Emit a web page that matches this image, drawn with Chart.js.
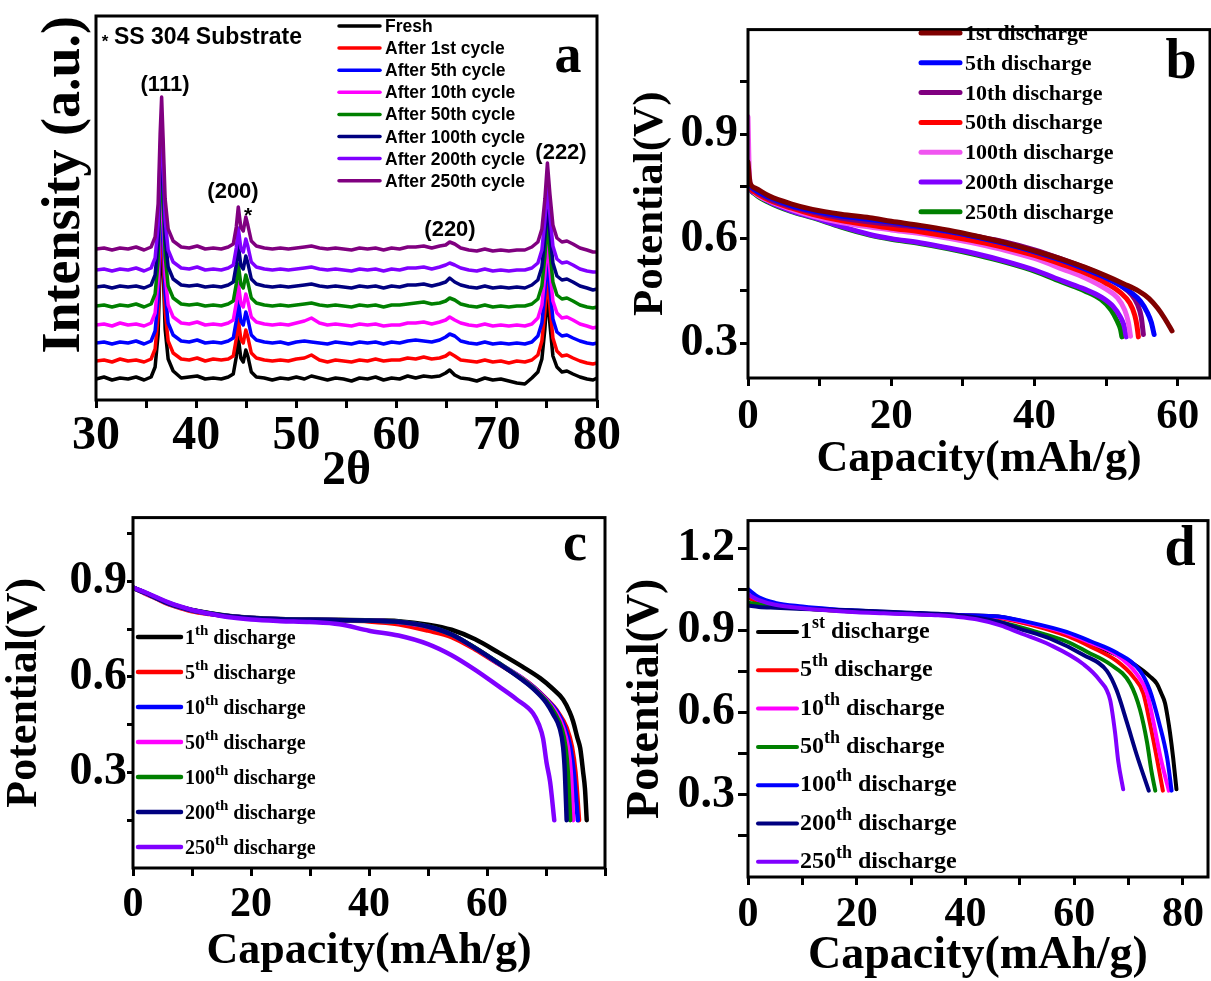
<!DOCTYPE html>
<html>
<head>
<meta charset="utf-8">
<script src="https://cdn.jsdelivr.net/npm/chart.js@4.4.0/dist/chart.umd.min.js"></script>
<style>
  body { margin: 0; background: #fff; width: 1211px; height: 981px; overflow: hidden; position: relative; }
  .panel { position: absolute; }
</style>
</head>
<body>
<div class="panel" style="left:0;top:0;width:625px;height:500px"><canvas id="chartA"></canvas></div>
<div class="panel" style="left:610px;top:0;width:601px;height:490px"><canvas id="chartB"></canvas></div>
<div class="panel" style="left:0;top:490px;width:610px;height:491px"><canvas id="chartC"></canvas></div>
<div class="panel" style="left:610px;top:490px;width:601px;height:491px"><canvas id="chartD"></canvas></div>
<script>
// ---------- (a) XRD patterns, stacked ----------
const twoTheta = [30, 30.8, 31.6, 32.4, 33.2, 34, 34.8, 35.5, 35.9, 36.2,
  36.4, 36.55, 36.7, 36.9, 37.2, 37.7, 38.5, 39.3, 40.1, 40.9,
  41.7, 42.5, 43.2, 43.7, 44.0, 44.2, 44.45, 44.7, 44.95, 45.15,
  45.5, 46.0, 46.8, 47.6, 48.4, 49.2, 50.0, 50.8, 51.5, 52.3,
  53.1, 53.9, 54.7, 55.5, 56.3, 57.1, 57.9, 58.7, 59.5, 60.3,
  61.1, 61.9, 62.7, 63.5, 64.3, 64.9, 65.3, 65.8, 66.4, 67.2,
  68.0, 68.8, 69.6, 70.4, 71.2, 72.0, 72.8, 73.5, 74.1, 74.5,
  74.8, 75.05, 75.3, 75.6, 76.0, 76.5, 77.0, 77.6, 78.3, 79.0,
  79.6, 80];

const xrdFresh = [21, 23, 20, 22, 21, 23, 20, 23, 33, 66, 136, 172, 131, 71, 41, 29, 22, 23, 24, 21,
  22, 21, 23, 26, 43, 63, 42, 38, 50, 44, 28, 23, 22, 20, 22, 21, 23, 21, 24, 22,
  20, 22, 21, 19, 22, 21, 23, 20, 22, 21, 24, 22, 24, 23, 24, 27, 30, 25, 22, 21,
  19, 22, 20, 21, 19, 17, 16, 22, 28, 41, 71, 108, 76, 44, 33, 28, 29, 26, 23, 21, 20, 22];
const xrd1st = [39, 40, 38, 41, 39, 40, 38, 41, 51, 84, 154, 190, 149, 89, 59, 47, 41, 40, 42, 39,
  41, 40, 41, 44, 61, 81, 61, 57, 70, 63, 47, 42, 40, 39, 40, 39, 41, 42, 45, 40,
  38, 40, 39, 38, 40, 39, 41, 39, 40, 40, 42, 41, 43, 41, 42, 44, 47, 44, 40, 39,
  38, 40, 38, 39, 37, 39, 38, 40, 45, 59, 89, 125, 94, 62, 49, 44, 45, 42, 39, 37, 36, 37];
const xrd5th = [57, 58, 56, 58, 57, 59, 56, 59, 69, 102, 172, 208, 167, 107, 77, 65, 59, 58, 60, 57,
  58, 57, 59, 62, 79, 99, 79, 75, 88, 81, 65, 60, 58, 57, 58, 56, 58, 59, 58, 57,
  56, 58, 57, 56, 58, 57, 58, 56, 58, 57, 59, 60, 59, 58, 60, 63, 66, 64, 59, 57,
  56, 58, 56, 57, 56, 57, 56, 58, 64, 77, 107, 143, 112, 81, 68, 64, 65, 62, 59, 57, 56, 57];
const xrd10th = [75, 76, 74, 77, 75, 76, 74, 77, 87, 120, 190, 226, 185, 125, 95, 83, 77, 76, 78, 75,
  76, 75, 77, 80, 97, 117, 97, 93, 106, 99, 83, 78, 76, 75, 76, 75, 77, 79, 82, 77,
  75, 76, 75, 74, 76, 75, 76, 74, 75, 75, 77, 77, 78, 76, 78, 80, 83, 80, 77, 75,
  74, 76, 74, 75, 74, 75, 74, 76, 82, 95, 125, 161, 130, 99, 87, 82, 83, 80, 76, 74, 72, 73];
const xrd50th = [94, 95, 93, 95, 94, 96, 93, 96, 106, 139, 209, 245, 204, 144, 114, 102, 96, 95, 96, 94,
  95, 94, 96, 99, 116, 136, 116, 112, 125, 118, 102, 97, 95, 94, 95, 94, 95, 96, 97, 95,
  94, 95, 94, 93, 95, 94, 95, 93, 95, 95, 96, 97, 98, 96, 97, 99, 102, 100, 96, 94,
  93, 95, 93, 94, 93, 94, 94, 96, 101, 114, 144, 180, 149, 118, 105, 101, 102, 99, 95, 93, 92, 93];
const xrd100th = [113, 114, 112, 114, 113, 114, 112, 115, 125, 158, 228, 264, 223, 163, 133, 121, 115, 114, 115, 113,
  114, 113, 115, 118, 135, 155, 135, 131, 144, 137, 121, 116, 114, 113, 114, 113, 114, 115, 116, 114,
  113, 114, 113, 112, 114, 113, 114, 112, 114, 113, 115, 115, 116, 114, 116, 118, 122, 118, 115, 113,
  112, 114, 112, 113, 112, 113, 112, 115, 120, 133, 163, 199, 168, 137, 124, 120, 121, 118, 114, 112, 110, 111];
const xrd200th = [130, 131, 129, 131, 130, 132, 129, 132, 142, 175, 245, 281, 240, 180, 150, 138, 132, 131, 133, 130,
  131, 130, 132, 135, 152, 172, 152, 148, 161, 154, 138, 133, 131, 130, 131, 130, 131, 132, 133, 131,
  130, 131, 130, 129, 131, 130, 131, 129, 131, 130, 132, 132, 133, 131, 133, 135, 137, 135, 132, 130,
  129, 131, 129, 130, 129, 130, 130, 132, 137, 150, 180, 214, 185, 154, 141, 137, 138, 135, 131, 129, 128, 128];
const xrd250th = [151, 152, 150, 152, 151, 153, 150, 153, 163, 196, 266, 303, 261, 201, 171, 159, 153, 152, 154, 151,
  152, 151, 153, 156, 173, 193, 173, 169, 183, 175, 159, 154, 152, 151, 152, 151, 152, 153, 154, 152,
  151, 152, 151, 150, 152, 151, 152, 150, 152, 151, 153, 153, 154, 152, 154, 155, 158, 156, 152, 150,
  149, 151, 149, 150, 149, 150, 150, 153, 158, 171, 201, 237, 206, 175, 162, 158, 159, 156, 152, 150, 148, 148];

const xrdNames = ['Fresh', 'After 1st cycle', 'After 5th cycle', 'After 10th cycle',
  'After 50th cycle', 'After 100th cycle', 'After 200th cycle', 'After 250th cycle'];
const xrdColors = ['#000000', '#ff0000', '#0000ff', '#ff00ff', '#008000', '#000080', '#8000ff', '#800080'];
const xrdSeries = [xrdFresh, xrd1st, xrd5th, xrd10th, xrd50th, xrd100th, xrd200th, xrd250th];
const xrdTicks = [30, 35, 40, 45, 50, 55, 60, 65, 70, 75, 80];
const xrdTickLabels = [30, 40, 50, 60, 70, 80];

// ---------- (b) discharge curves [capacity, potential] ----------
const b1st = [[0,0.82],[0.3,0.76],[1,0.745],[3,0.722],[6,0.70],[9,0.684],[13,0.67],[17,0.66],[20,0.65],[24,0.638],[28,0.624],[32,0.607],[36,0.588],[40,0.565],[44,0.54],[47,0.518],[50,0.493],[52.5,0.47],[54.5,0.45],[56,0.428],[57.2,0.40],[58.2,0.37],[59.2,0.335]];
const b5th = [[0,0.78],[0.3,0.755],[1,0.74],[3,0.718],[6,0.695],[9,0.68],[13,0.665],[17,0.655],[20,0.647],[24,0.635],[28,0.621],[32,0.604],[36,0.585],[40,0.562],[44,0.536],[47,0.513],[50,0.487],[52,0.465],[53.5,0.445],[54.8,0.42],[55.7,0.39],[56.3,0.36],[56.7,0.325]];
const b10th = [[0,0.78],[0.3,0.752],[1,0.738],[3,0.714],[6,0.692],[9,0.676],[13,0.659],[17,0.648],[20,0.641],[24,0.632],[28,0.62],[32,0.606],[36,0.59],[40,0.568],[44,0.54],[47,0.517],[50,0.49],[52,0.466],[53.5,0.44],[54.4,0.41],[54.9,0.375],[55.2,0.325]];
const b50th = [[0,0.78],[0.3,0.748],[1,0.733],[3,0.71],[6,0.688],[9,0.67],[13,0.652],[17,0.639],[20,0.63],[24,0.62],[28,0.607],[32,0.592],[36,0.574],[40,0.552],[44,0.525],[47,0.502],[50,0.472],[52,0.445],[53.3,0.415],[54,0.38],[54.3,0.35],[54.5,0.318]];
const b100th = [[0,0.95],[0.2,0.78],[0.5,0.745],[1,0.73],[3,0.708],[6,0.684],[9,0.665],[13,0.646],[17,0.633],[20,0.625],[24,0.615],[28,0.601],[32,0.585],[36,0.566],[40,0.543],[44,0.512],[47,0.488],[50,0.455],[51.6,0.43],[52.6,0.395],[53.1,0.36],[53.4,0.32]];
const b200th = [[0,0.78],[0.3,0.745],[1,0.73],[3,0.705],[6,0.68],[9,0.662],[13,0.635],[17,0.612],[20,0.6],[24,0.588],[28,0.573],[32,0.556],[36,0.535],[40,0.51],[44,0.478],[47,0.455],[49.5,0.43],[51,0.405],[52,0.375],[52.5,0.35],[52.8,0.318]];
const b250th = [[0,0.78],[0.3,0.745],[1,0.728],[3,0.703],[6,0.678],[9,0.66],[13,0.633],[17,0.61],[20,0.598],[24,0.586],[28,0.571],[32,0.553],[36,0.532],[40,0.507],[44,0.474],[47,0.45],[49.3,0.425],[50.7,0.395],[51.5,0.365],[52,0.34],[52.2,0.318]];
const bNames = ['1st discharge', '5th discharge', '10th discharge', '50th discharge', '100th discharge', '200th discharge', '250th discharge'];
const bColors = ['#800000', '#0000ff', '#800080', '#ff0000', '#f055f0', '#8000ff', '#008000'];
const bSeries = [b1st, b5th, b10th, b50th, b100th, b200th, b250th];

// ---------- (c) discharge curves ----------
const c1th = [[0,0.88],[2,0.865],[4,0.848],[6,0.832],[8,0.82],[10,0.81],[13,0.8],[16,0.792],[20,0.786],[25,0.782],[30,0.78],[35,0.779],[40,0.778],[45,0.775],[50,0.764],[54,0.748],[58,0.718],[62,0.676],[66,0.632],[69,0.596],[71,0.565],[72.9,0.529],[74,0.49],[74.6,0.46],[75.3,0.41],[75.8,0.376],[76.3,0.3],[76.6,0.25],[76.9,0.15]];
const c5th = [[0,0.88],[2,0.862],[4,0.845],[6,0.828],[8,0.816],[10,0.806],[13,0.797],[16,0.79],[20,0.784],[25,0.78],[30,0.778],[35,0.777],[40,0.774],[45,0.765],[50,0.745],[54,0.725],[58,0.686],[62,0.64],[66,0.595],[68,0.567],[70,0.532],[72,0.49],[73.5,0.44],[74.4,0.38],[75,0.3],[75.6,0.15]];
const c10th = [[0,0.88],[2,0.864],[4,0.847],[6,0.83],[8,0.818],[10,0.808],[13,0.798],[16,0.791],[20,0.785],[25,0.781],[30,0.779],[35,0.778],[40,0.777],[45,0.772],[50,0.757],[54,0.733],[58,0.69],[62,0.642],[66,0.595],[68,0.566],[70,0.53],[71.9,0.49],[73.2,0.44],[74.1,0.38],[74.7,0.3],[75.4,0.15]];
const c50th = [[0,0.88],[2,0.863],[4,0.846],[6,0.83],[8,0.818],[10,0.808],[13,0.798],[16,0.791],[20,0.785],[25,0.781],[30,0.779],[35,0.778],[40,0.777],[45,0.772],[50,0.757],[54,0.733],[58,0.69],[62,0.642],[66,0.594],[68,0.564],[70,0.528],[71.7,0.487],[72.9,0.44],[73.7,0.38],[74.2,0.3],[74.6,0.15]];
const c100th = [[0,0.88],[2,0.864],[4,0.847],[6,0.831],[8,0.819],[10,0.809],[13,0.799],[16,0.791],[20,0.785],[25,0.781],[30,0.779],[35,0.778],[40,0.777],[45,0.773],[50,0.758],[54,0.733],[58,0.691],[62,0.643],[66,0.592],[68,0.562],[70,0.525],[71.5,0.485],[72.6,0.44],[73.3,0.38],[73.7,0.3],[74.1,0.15]];
const c200th = [[0,0.88],[2,0.864],[4,0.847],[6,0.831],[8,0.819],[10,0.809],[13,0.799],[16,0.791],[20,0.785],[25,0.781],[30,0.779],[35,0.778],[40,0.777],[45,0.773],[50,0.758],[54,0.733],[58,0.69],[62,0.642],[66,0.59],[68,0.56],[70,0.52],[71.3,0.48],[72.3,0.44],[72.9,0.38],[73.2,0.3],[73.5,0.15]];
const c250th = [[0,0.88],[2,0.866],[4,0.85],[6,0.834],[8,0.821],[10,0.81],[13,0.798],[16,0.788],[20,0.78],[25,0.775],[30,0.772],[35,0.765],[40,0.745],[45,0.73],[50,0.703],[54,0.668],[58,0.622],[62,0.57],[65,0.53],[67.8,0.486],[68.8,0.45],[69.5,0.407],[70.1,0.33],[70.7,0.27],[71.4,0.15]];
const cNames = ['1th discharge', '5th discharge', '10th discharge', '50th discharge', '100th discharge', '200th discharge', '250th discharge'];
const cColors = ['#000000', '#ff0000', '#0000ff', '#ff00ff', '#008000', '#000080', '#8000ff'];
const cSeries = [c1th, c5th, c10th, c50th, c100th, c200th, c250th];

// ---------- (d) discharge curves ----------
const d1st = [[0,1.02],[2,1.005],[5,0.99],[10,0.982],[15,0.975],[20,0.97],[25,0.966],[30,0.962],[35,0.958],[40,0.955],[46,0.95],[52,0.925],[58.6,0.885],[63,0.85],[67.8,0.81],[70.5,0.783],[72.7,0.752],[74,0.73],[75.2,0.705],[76,0.67],[76.7,0.634],[77.2,0.58],[77.6,0.528],[78.2,0.433],[78.8,0.32]];
const d5th = [[0,1.02],[2,1.005],[5,0.99],[10,0.98],[15,0.973],[20,0.968],[25,0.964],[30,0.96],[35,0.956],[40,0.952],[46,0.945],[52,0.92],[58.6,0.88],[63,0.84],[67.8,0.788],[70.9,0.729],[72.7,0.67],[73.9,0.563],[75.2,0.433],[76.3,0.315]];
const d10th = [[0,1.03],[2,1.01],[5,0.995],[10,0.983],[15,0.975],[20,0.97],[25,0.965],[30,0.96],[35,0.957],[40,0.954],[46,0.948],[52,0.925],[58.6,0.89],[63,0.855],[67.8,0.81],[71.5,0.74],[73.4,0.67],[74.6,0.563],[75.9,0.433],[77.4,0.315]];
const d50th = [[0,1.0],[2,0.995],[5,0.988],[10,0.98],[15,0.973],[20,0.968],[25,0.964],[30,0.96],[35,0.957],[40,0.952],[46.4,0.929],[52,0.9],[58.6,0.859],[62.5,0.82],[66.6,0.776],[70.3,0.705],[72.1,0.61],[73.4,0.49],[74.2,0.386],[74.9,0.315]];
const d100th = [[0,1.05],[2,1.02],[5,1.0],[10,0.987],[15,0.978],[20,0.972],[25,0.967],[30,0.962],[35,0.958],[40,0.955],[46,0.95],[52,0.928],[58.6,0.894],[63,0.86],[67.8,0.818],[72.1,0.752],[73.9,0.681],[75.6,0.563],[77.1,0.433],[77.9,0.315]];
const d200th = [[0,0.99],[2,0.985],[5,0.982],[10,0.978],[15,0.975],[20,0.972],[25,0.968],[30,0.964],[35,0.96],[40,0.952],[46.4,0.929],[50,0.905],[55.5,0.87],[61.7,0.81],[66,0.752],[67.8,0.681],[69.7,0.563],[71.5,0.445],[73.7,0.315]];
const d250th = [[0,1.03],[2,1.01],[5,0.993],[10,0.98],[15,0.972],[20,0.966],[25,0.962],[30,0.958],[35,0.955],[38,0.95],[42,0.94],[46.4,0.918],[50,0.89],[55.5,0.847],[61.7,0.776],[64.7,0.717],[66.6,0.646],[67.5,0.528],[68.1,0.421],[69.0,0.32]];
const dNames = ['1st discharge', '5th discharge', '10th discharge', '50th discharge', '100th discharge', '200th discharge', '250th discharge'];
const dColors = ['#000000', '#ff0000', '#ff00ff', '#008000', '#0000ff', '#000080', '#8000ff'];
const dSeries = [d1st, d5th, d10th, d50th, d100th, d200th, d250th];

// tick positions and the ones that carry a label
const capTicksB = [0, 10, 20, 30, 40, 50, 60];
const capTicks = [0, 10, 20, 30, 40, 50, 60, 70, 80];
const capLabels = [0, 20, 40, 60];
const capLabelsD = [0, 20, 40, 60, 80];
const potTicksB = [0.3, 0.45, 0.6, 0.75, 0.9, 1.05];
const potTicksC = [0.15, 0.3, 0.45, 0.6, 0.75, 0.9, 1.05];
const potTicksD = [0.15, 0.3, 0.45, 0.6, 0.75, 0.9, 1.05, 1.2];
const potLabels = [0.3, 0.6, 0.9];
const potLabelsD = [0.3, 0.6, 0.9, 1.2];

const serif = '"Liberation Serif", "Times New Roman", serif';
const sans = '"Liberation Sans", Arial, sans-serif';

Chart.defaults.color = '#000';
Chart.defaults.animation = false;

// box around the plot area
const frame = {
  id: 'frame',
  afterDatasetsDraw(chart) {
    const { ctx, chartArea: a } = chart;
    ctx.save();
    ctx.lineWidth = 3;
    ctx.strokeStyle = '#000';
    ctx.strokeRect(a.left, a.top, a.right - a.left, a.bottom - a.top);
    ctx.restore();
  }
};

// free text: panel letters, peak indices
const panelText = {
  id: 'panelText',
  afterDraw(chart, args, opts) {
    const ctx = chart.ctx;
    ctx.save();
    ctx.fillStyle = '#000';
    (opts.items || []).forEach(t => {
      ctx.font = t.font;
      ctx.textAlign = t.align || 'center';
      ctx.textBaseline = t.baseline || 'middle';
      ctx.fillText(t.text, t.x, t.y);
    });
    ctx.restore();
  }
};

// legend rows with optional superscript ordinals
const seriesKey = {
  id: 'seriesKey',
  afterDraw(chart, args, o) {
    if (!o.rows) return;
    const ctx = chart.ctx;
    ctx.save();
    chart.data.datasets.forEach((ds, i) => {
      const y = o.top + i * o.step;
      ctx.strokeStyle = ds.borderColor;
      ctx.lineWidth = o.lineWidth;
      ctx.lineCap = 'round';
      ctx.beginPath();
      ctx.moveTo(o.x0, y);
      ctx.lineTo(o.x1, y);
      ctx.stroke();
      ctx.fillStyle = '#000';
      ctx.textAlign = 'left';
      ctx.textBaseline = 'alphabetic';
      const by = y + o.baseline;
      let x = o.textX;
      const m = o.sup ? ds.label.match(/^(\d+)(st|nd|rd|th) (.*)$/) : null;
      if (m) {
        ctx.font = o.font;
        ctx.fillText(m[1], x, by);
        x += ctx.measureText(m[1]).width;
        ctx.font = o.supFont;
        ctx.fillText(m[2], x, by - o.supRise);
        x += ctx.measureText(m[2]).width;
        ctx.font = o.font;
        ctx.fillText(' ' + m[3], x, by);
      } else {
        ctx.font = o.font;
        ctx.fillText(ds.label, x, by);
      }
    });
    ctx.restore();
  }
};

Chart.register(frame, panelText, seriesKey);

function axis(o) {
  const near = (list, v) => list.some(l => Math.abs(l - v) < 1e-6);
  return {
    type: 'linear',
    position: o.horizontal ? 'bottom' : 'left',
    min: o.min,
    max: o.max,
    afterFit: s => {
      if (o.horizontal) {
        s.height = o.size;
        s.paddingLeft = 0;
        s.paddingRight = 0;
      } else {
        s.width = o.size;
      }
    },
    afterBuildTicks: s => { s.ticks = o.ticks.map(v => ({ value: v })); },
    ticks: {
      display: o.ticks.length > 0,
      autoSkip: false,
      maxRotation: 0,
      minRotation: 0,
      padding: o.tickPad || 0,
      color: '#000',
      font: { family: serif, size: o.tickSize || 44, weight: 'bold' },
      callback: v => near(o.labels, v) ? o.fmt(v) : ''
    },
    grid: {
      display: o.ticks.length > 0,
      drawOnChartArea: false,
      drawTicks: true,
      tickLength: o.tickLen || 8,
      tickWidth: 3,
      tickColor: '#000'
    },
    border: { display: false },
    title: {
      display: true,
      text: o.title,
      color: '#000',
      align: o.titleAlign || 'center',
      padding: o.titlePad,
      font: { family: serif, size: o.titleSize, weight: 'bold', lineHeight: 1 }
    }
  };
}

function curveSets(names, colors, series, width, reversed) {
  return series.map((pts, i) => ({
    label: names[i],
    data: pts.map(p => ({ x: p[0], y: p[1] })),
    borderColor: colors[i],
    backgroundColor: colors[i],
    borderWidth: width,
    pointRadius: 0,
    fill: false,
    cubicInterpolationMode: 'monotone',
    borderCapStyle: 'round',
    borderJoinStyle: 'round',
    order: reversed ? series.length - 1 - i : i
  }));
}

const baseOpts = {
  responsive: true,
  maintainAspectRatio: false,
  devicePixelRatio: 1,
  animation: false,
  events: []
};

// ---- a ----
new Chart(document.getElementById('chartA'), {
  type: 'line',
  data: {
    datasets: xrdSeries.map((vals, i) => ({
      label: xrdNames[i],
      data: twoTheta.map((t, k) => ({ x: t, y: vals[k] })),
      borderColor: xrdColors[i],
      backgroundColor: xrdColors[i],
      borderWidth: 3.5,
      pointRadius: 0,
      tension: 0,
      borderJoinStyle: 'round',
      order: xrdSeries.length - 1 - i
    }))
  },
  options: {
    ...baseOpts,
    layout: { padding: { left: 0, right: 28, top: 16, bottom: 0 } },
    scales: {
      x: axis({ horizontal: true, min: 30, max: 80, ticks: xrdTicks, labels: xrdTickLabels, fmt: v => String(v),
        size: 100, tickSize: 48, tickLen: 8, tickPad: 0, title: '2θ', titleSize: 48, titlePad: { top: 0, bottom: 4 } }),
      y: axis({ min: 0, max: 384, ticks: [], labels: [], fmt: v => '',
        size: 96, title: 'Intensity (a.u.)', titleSize: 54, titleAlign: 'end', titlePad: { top: 38, bottom: 0 } })
    },
    plugins: {
      legend: { display: false },
      tooltip: { enabled: false },
      seriesKey: { rows: true, top: 26, step: 22.1, x0: 339, x1: 380, textX: 385, baseline: 6,
        lineWidth: 3.5, font: 'bold 17.5px ' + sans },
      panelText: { items: [
        { text: '*', x: 105, y: 42, font: 'bold 17px ' + sans },
        { text: 'SS 304 Substrate', x: 114, y: 38, align: 'left', font: 'bold 23px ' + sans },
        { text: '(111)', x: 165, y: 85, font: 'bold 22px ' + sans },
        { text: '(200)', x: 233, y: 192, font: 'bold 22px ' + sans },
        { text: '*', x: 248, y: 216, font: 'bold 21px ' + sans },
        { text: '(220)', x: 450, y: 230, font: 'bold 22px ' + sans },
        { text: '(222)', x: 561, y: 153, font: 'bold 22px ' + sans },
        { text: 'a', x: 568, y: 72, baseline: 'alphabetic', font: 'bold 54px ' + serif }
      ] }
    }
  }
});

// ---- b ----
new Chart(document.getElementById('chartB'), {
  type: 'line',
  data: { datasets: curveSets(bNames, bColors, bSeries, 5, false) },
  options: {
    ...baseOpts,
    layout: { padding: { left: 0, right: 1, top: 18, bottom: 0 } },
    scales: {
      x: axis({ horizontal: true, min: 0, max: 64.5, ticks: capTicksB, labels: capLabels, fmt: v => String(v),
        size: 112, tickSize: 43, tickLen: 8, tickPad: 5, title: 'Capacity(mAh/g)', titleSize: 44, titlePad: { top: 0, bottom: 8 } }),
      y: axis({ min: 0.2, max: 1.2, ticks: potTicksB, labels: potLabels, fmt: v => v.toFixed(1),
        size: 138, tickSize: 46, tickLen: 8, tickPad: 2, title: 'Potential(V)', titleSize: 43, titlePad: { top: 19, bottom: 0 } })
    },
    plugins: {
      legend: { display: false },
      tooltip: { enabled: false },
      seriesKey: { rows: true, top: 33, step: 29.8, x0: 311, x1: 350, textX: 355, baseline: 7,
        lineWidth: 5, font: 'bold 22px ' + serif },
      panelText: { items: [
        { text: 'b', x: 571, y: 78, baseline: 'alphabetic', font: 'bold 56px ' + serif }
      ] }
    }
  }
});

// ---- c ----
new Chart(document.getElementById('chartC'), {
  type: 'line',
  data: { datasets: curveSets(cNames, cColors, cSeries, 4.5, true) },
  options: {
    ...baseOpts,
    layout: { padding: { left: 0, right: 5, top: 25, bottom: 0 } },
    scales: {
      x: axis({ horizontal: true, min: 0, max: 80, ticks: capTicks, labels: capLabels, fmt: v => String(v),
        size: 113, tickSize: 42, tickLen: 8, tickPad: 4, title: 'Capacity(mAh/g)', titleSize: 44, titlePad: { top: 0, bottom: 7 } }),
      y: axis({ min: 0, max: 1.1, ticks: potTicksC, labels: potLabels, fmt: v => v.toFixed(1),
        size: 133, tickSize: 46, tickLen: 6, tickPad: 0, title: 'Potential(V)', titleSize: 44, titlePad: { top: 3, bottom: 0 } })
    },
    plugins: {
      legend: { display: false },
      tooltip: { enabled: false },
      seriesKey: { rows: true, top: 147, step: 35, x0: 138, x1: 181, textX: 185, baseline: 7,
        lineWidth: 4.5, sup: true, supRise: 9, font: 'bold 20px ' + serif, supFont: 'bold 15px ' + serif },
      panelText: { items: [
        { text: 'c', x: 575, y: 70, baseline: 'alphabetic', font: 'bold 54px ' + serif }
      ] }
    }
  }
});

// ---- d ----
new Chart(document.getElementById('chartD'), {
  type: 'line',
  data: { datasets: curveSets(dNames, dColors, dSeries, 4, true) },
  options: {
    ...baseOpts,
    layout: { padding: { left: 0, right: 3, top: 22, bottom: 0 } },
    scales: {
      x: axis({ horizontal: true, min: 0, max: 84.6, ticks: capTicks, labels: capLabelsD, fmt: v => String(v),
        size: 104, tickSize: 42, tickLen: 8, tickPad: 5, title: 'Capacity(mAh/g)', titleSize: 46, titlePad: { top: 0, bottom: 2 } }),
      y: axis({ min: 0, max: 1.3, ticks: potTicksD, labels: potLabelsD, fmt: v => v.toFixed(1),
        size: 138, tickSize: 46, tickLen: 10, tickPad: 3, title: 'Potential(V)', titleSize: 46, titlePad: { top: 13, bottom: 0 } })
    },
    plugins: {
      legend: { display: false },
      tooltip: { enabled: false },
      seriesKey: { rows: true, top: 142, step: 38.3, x0: 148, x1: 187, textX: 190, baseline: 6,
        lineWidth: 4, sup: true, supRise: 10, font: 'bold 24px ' + serif, supFont: 'bold 18px ' + serif },
      panelText: { items: [
        { text: 'd', x: 570, y: 75, baseline: 'alphabetic', font: 'bold 56px ' + serif }
      ] }
    }
  }
});
</script>
</body>
</html>
